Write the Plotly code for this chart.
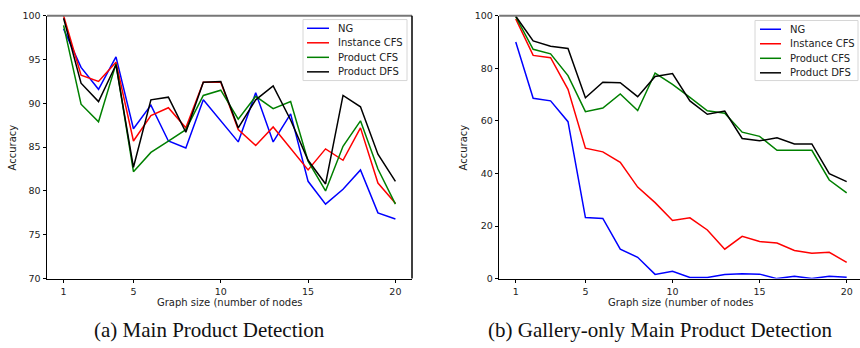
import plotly.graph_objects as go

sizes = list(range(1, 21))
series_names = ["NG", "Instance CFS", "Product CFS", "Product DFS"]
colors = ["#0000ff", "#ff0000", "#008000", "#000000"]

# (a) Main Product Detection
main_ng = [98.5, 94.1, 91.6, 95.3, 87.1, 89.8, 85.7, 84.9, 90.4, 88.0,
           85.6, 91.2, 85.6, 88.8, 81.1, 78.5, 80.2, 82.4, 77.5, 76.8]
main_inst_cfs = [100.0, 93.2, 92.5, 94.7, 85.7, 88.6, 89.5, 87.2, 92.4, 92.4,
                 87.0, 85.2, 87.3, 84.9, 82.4, 84.8, 83.5, 87.2, 80.9, 78.6]
main_prod_cfs = [98.9, 89.9, 87.9, 94.5, 82.2, 84.4, 85.7, 87.0, 90.9, 91.5,
                 88.2, 90.8, 89.4, 90.2, 83.4, 80.0, 85.1, 88.0, 82.5, 78.5]
main_prod_dfs = [99.7, 92.3, 90.2, 94.4, 82.7, 90.4, 90.7, 86.7, 92.4, 92.5,
                 87.2, 90.4, 92.0, 88.1, 83.5, 80.8, 90.9, 89.6, 84.2, 81.1]

# (b) Gallery-only Main Product Detection
gal_ng = [90.0, 68.6, 67.6, 59.7, 23.2, 22.9, 11.2, 8.1, 1.6, 2.8,
          0.4, 0.4, 1.6, 1.8, 1.7, 0.0, 0.9, 0.0, 0.9, 0.5]
gal_inst_cfs = [98.8, 84.9, 84.0, 72.0, 49.6, 48.2, 44.2, 34.8, 28.9, 22.1,
                23.1, 18.5, 11.2, 16.1, 14.1, 13.5, 10.7, 9.6, 10.0, 6.2]
gal_prod_cfs = [99.6, 87.2, 85.5, 77.2, 63.5, 64.9, 70.2, 63.9, 78.2, 73.9,
                68.9, 63.8, 62.9, 55.7, 54.1, 48.8, 48.8, 48.8, 37.5, 32.6]
gal_prod_dfs = [99.8, 90.4, 88.4, 87.5, 68.8, 74.7, 74.5, 69.2, 76.9, 78.0,
                67.6, 62.5, 63.7, 53.3, 52.4, 53.6, 51.2, 51.2, 39.9, 36.9]

x_ticks = [1, 5, 10, 15, 20]
main_y_ticks = [70, 75, 80, 85, 90, 95, 100]
gal_y_ticks = [0, 20, 40, 60, 80, 100]
x_title = "Graph size (number of nodes"
y_title = "Accuracy"
captions = ["(a) Main Product Detection", "(b) Gallery-only Main Product Detection"]

W, H = 860, 348
SANS = "DejaVu Sans"
SERIF = "Liberation Serif"

fig = go.Figure()

main_data = [main_ng, main_inst_cfs, main_prod_cfs, main_prod_dfs]
gal_data = [gal_ng, gal_inst_cfs, gal_prod_cfs, gal_prod_dfs]

for name, col, ys in zip(series_names, colors, main_data):
    fig.add_trace(go.Scatter(x=sizes, y=ys, mode="lines", name=name,
                             line=dict(color=col, width=1.5),
                             xaxis="x", yaxis="y", showlegend=False))
for name, col, ys in zip(series_names, colors, gal_data):
    fig.add_trace(go.Scatter(x=sizes, y=ys, mode="lines", name=name,
                             line=dict(color=col, width=1.5),
                             xaxis="x2", yaxis="y2", showlegend=False))

def px_x(p):
    return p / W

def px_y(p):
    return 1 - p / H

y_dom = [px_y(281.5), px_y(10)]
left_dom = [px_x(47), px_x(412)]
right_dom = [px_x(499.2), 1.0]

axis_common = dict(showgrid=False, zeroline=False, ticks="outside", ticklen=3.5,
                   tickwidth=1, tickcolor="#000", showline=True, linecolor="#000",
                   linewidth=1, tickfont=dict(family=SANS, size=9.5, color="#222"))

fig.update_layout(
    width=W, height=H, margin=dict(l=0, r=0, t=0, b=0),
    paper_bgcolor="white", plot_bgcolor="white",
    xaxis=dict(domain=left_dom, range=[0.05, 20.95], tickvals=x_ticks,
               anchor="y", **axis_common),
    yaxis=dict(domain=y_dom, range=[70, 100], tickvals=main_y_ticks,
               anchor="x", **axis_common),
    xaxis2=dict(domain=right_dom, range=[0.05, 20.765], tickvals=x_ticks,
                anchor="y2", **axis_common),
    yaxis2=dict(domain=y_dom, range=[0, 100], tickvals=gal_y_ticks,
                anchor="x2", **axis_common),
    showlegend=False,
)

shapes = []
# top (gray) and right spines
shapes.append(dict(type="line", xref="x domain", yref="y domain", x0=0, x1=1, y0=1, y1=1,
                   line=dict(color="#777", width=2)))
shapes.append(dict(type="line", xref="x domain", yref="y domain", x0=1, x1=1, y0=0, y1=1,
                   line=dict(color="#000", width=1.5)))
shapes.append(dict(type="line", xref="x2 domain", yref="y2 domain", x0=0, x1=1, y0=1, y1=1,
                   line=dict(color="#777", width=2)))

ann = []

# legends (box, line samples, labels)
legend_specs = [
    dict(box=(303, 407, 14, 77), line=(307, 329), text_x=336, row0=23),
    dict(box=(755, 858, 15, 77), line=(760, 781), text_x=788, row0=24),
]
row_step = 15
for spec in legend_specs:
    bx0, bx1, by0, by1 = spec["box"]
    shapes.append(dict(type="rect", xref="paper", yref="paper",
                       x0=px_x(bx0), x1=px_x(bx1), y0=px_y(by1), y1=px_y(by0),
                       line=dict(color="#d6d6d6", width=1), fillcolor="rgba(255,255,255,0.85)",
                       layer="above"))
    for i, (name, col) in enumerate(zip(series_names, colors)):
        yy = spec["row0"] + i * row_step
        shapes.append(dict(type="line", xref="paper", yref="paper",
                           x0=px_x(spec["line"][0]), x1=px_x(spec["line"][1]),
                           y0=px_y(yy), y1=px_y(yy), line=dict(color=col, width=1.5),
                           layer="above"))
        ann.append(dict(text=name, x=px_x(spec["text_x"]), y=px_y(yy), xref="paper",
                        yref="paper", showarrow=False, xanchor="left", yanchor="middle",
                        font=dict(family=SANS, size=10, color="#222")))

# axis titles and captions
for cx in [229.5, 681]:
    ann.append(dict(text=x_title, x=px_x(cx), y=px_y(306), xref="paper", yref="paper",
                    showarrow=False, xanchor="center", yanchor="middle",
                    font=dict(family=SANS, size=10, color="#222")))
for cx in [12, 463]:
    ann.append(dict(text=y_title, x=px_x(cx), y=px_y(146), xref="paper", yref="paper",
                    showarrow=False, xanchor="center", yanchor="middle", textangle=-90,
                    font=dict(family=SANS, size=10, color="#222")))
for cx, cap in zip([209, 660.5], captions):
    ann.append(dict(text=cap, x=px_x(cx), y=px_y(335), xref="paper", yref="paper",
                    showarrow=False, xanchor="center", yanchor="middle",
                    font=dict(family=SERIF, size=21, color="#111")))
fig.update_layout(annotations=ann, shapes=shapes)

fig.write_html("out.html")
